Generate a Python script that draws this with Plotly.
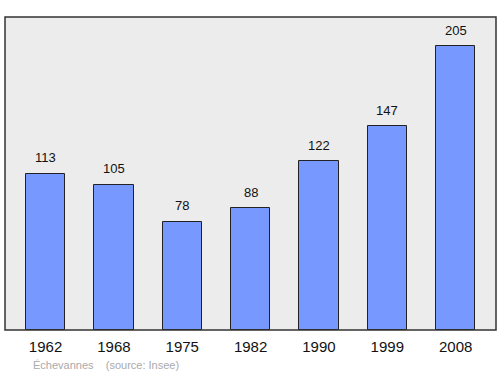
import plotly.graph_objects as go

years = ["1962", "1968", "1975", "1982", "1990", "1999", "2008"]
population = [113, 105, 78, 88, 122, 147, 205]

FONT = "Liberation Sans, Arial, sans-serif"

fig = go.Figure()
fig.add_trace(go.Bar(
    x=list(range(len(years))), y=population,
    width=0.575,
    marker=dict(color="#7799ff", line=dict(color="#222222", width=1)),
    cliponaxis=False,
))
annotations = [dict(x=i, y=v, text=str(v), xref="x", yref="y", yshift=16,
                    xanchor="center", yanchor="middle", showarrow=False,
                    font=dict(family=FONT, size=13, color="#111111"))
               for i, v in enumerate(population)]
annotations.append(dict(text="Échevannes    (source: Insee)", xref="paper", yref="paper",
                        x=0.053, y=-0.112, xanchor="left", yanchor="middle", showarrow=False,
                        font=dict(family=FONT, size=11, color="#aaaaaa")))
fig.update_layout(
    width=500, height=374,
    margin=dict(l=5, r=4, t=17, b=44),
    paper_bgcolor="white", plot_bgcolor="#ececec",
    showlegend=False,
    xaxis=dict(range=[-0.593, 6.59], tickvals=list(range(len(years))), ticktext=years,
               showgrid=False, zeroline=False, ticks="", showline=False,
               ticklabelstandoff=6,
               tickfont=dict(family=FONT, size=15, color="#111111")),
    yaxis=dict(range=[0, 226], showgrid=False, zeroline=False, showticklabels=False,
               ticks="", showline=False),
    bargap=0,
    shapes=[dict(type="rect", xref="paper", yref="paper", x0=0, x1=1, y0=0, y1=1,
                 line=dict(color="#333333", width=1.5))],
    annotations=annotations,
)
fig.write_html("out.html")
